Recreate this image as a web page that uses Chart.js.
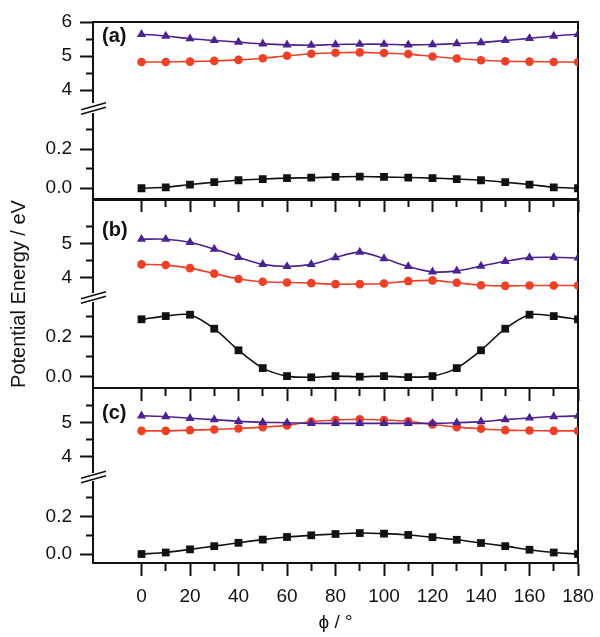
<!DOCTYPE html>
<html>
<head>
<meta charset="utf-8">
<script src="https://cdn.jsdelivr.net/npm/chart.js@4.4.1/dist/chart.umd.min.js"></script>
<style>
  html, body { margin: 0; padding: 0; background: #fff; }
  #wrap { position: relative; width: 600px; height: 637px; }
  #wrap canvas { position: absolute; left: 0; }
</style>
</head>
<body>
<div id="wrap">
  <canvas id="panelA" width="600" height="212" style="top:0px"></canvas>
  <canvas id="panelB" width="600" height="210" style="top:191px"></canvas>
  <canvas id="panelC" width="600" height="258" style="top:379px"></canvas>
</div>
<script>
// dihedral angle phi (deg)
const angles = [0, 10, 20, 30, 40, 50, 60, 70, 80, 90, 100, 110, 120, 130, 140, 150, 160, 170, 180];

// panel (a)
const squaresA   = [0.000, 0.005, 0.019, 0.031, 0.041, 0.047, 0.052, 0.054, 0.058, 0.060, 0.058, 0.055, 0.052, 0.047, 0.041, 0.031, 0.019, 0.005, 0.000];
const circlesA   = [4.83, 4.83, 4.84, 4.86, 4.89, 4.94, 5.01, 5.07, 5.10, 5.11, 5.09, 5.06, 4.99, 4.93, 4.88, 4.85, 4.84, 4.83, 4.83];
const trianglesA = [5.64, 5.59, 5.51, 5.46, 5.41, 5.36, 5.33, 5.32, 5.34, 5.35, 5.35, 5.33, 5.34, 5.37, 5.40, 5.46, 5.52, 5.59, 5.64];

// panel (b)
const squaresB   = [0.287, 0.303, 0.310, 0.240, 0.132, 0.043, 0.003, -0.003, 0.003, 0.000, 0.003, -0.002, 0.003, 0.043, 0.132, 0.240, 0.310, 0.303, 0.287];
const circlesB   = [4.38, 4.36, 4.27, 4.11, 3.95, 3.87, 3.85, 3.83, 3.80, 3.80, 3.82, 3.89, 3.91, 3.84, 3.77, 3.75, 3.76, 3.76, 3.76];
const trianglesB = [5.12, 5.12, 5.03, 4.83, 4.59, 4.38, 4.32, 4.38, 4.58, 4.74, 4.55, 4.32, 4.16, 4.19, 4.33, 4.47, 4.58, 4.59, 4.57];

// panel (c)
const squaresC   = [0.000, 0.008, 0.025, 0.042, 0.060, 0.077, 0.091, 0.100, 0.107, 0.112, 0.109, 0.102, 0.090, 0.076, 0.059, 0.042, 0.023, 0.008, 0.000];
const circlesC   = [4.76, 4.76, 4.78, 4.80, 4.83, 4.87, 4.92, 5.03, 5.08, 5.10, 5.08, 5.04, 4.95, 4.87, 4.82, 4.78, 4.77, 4.76, 4.76];
const trianglesC = [5.20, 5.18, 5.13, 5.09, 5.04, 5.01, 5.00, 4.98, 4.98, 4.98, 4.98, 4.98, 4.98, 5.00, 5.03, 5.09, 5.14, 5.18, 5.20];

// ticks
const xLabelled   = [0, 20, 40, 60, 80, 100, 120, 140, 160, 180];
const upperTicksA = [4, 4.5, 5, 5.5, 6];
const upperTicks  = [4, 4.5, 5, 5.5];
const upperLabels = [4, 5, 6];
const lowerTicks  = [0, 0.1, 0.2, 0.3];
const lowerLabels = [0, 0.2];

const INK = '#111';
const RED = '#ee4027';
const VIOLET = '#4b2290';

Chart.defaults.font.family = 'Arial, "Liberation Sans", sans-serif';
Chart.defaults.font.size = 19;
Chart.defaults.color = INK;

const has = (list, v) => list.some(t => Math.abs(t - v) < 1e-6);
const pts = vals => angles.map((a, i) => ({ x: a, y: vals[i] }));

// keep every axis to a fixed size, with no extra room for edge labels
function fixSize(s, w, h) {
  if (w !== null) s.width = w;
  if (h !== null) s.height = h;
  s.paddingTop = s.paddingBottom = s.paddingLeft = s.paddingRight = 0;
}

// "//" across the left axis where it is cut
const breakMarks = {
  id: 'breakMarks',
  afterDraw(chart) {
    const gap = chart.scales.gap;
    const ctx = chart.ctx;
    const x = chart.chartArea.left;
    const y = (gap.top + gap.bottom) / 2;
    ctx.save();
    ctx.strokeStyle = INK;
    ctx.lineWidth = 1.6;
    for (const d of [-2.2, 2.2]) {
      ctx.beginPath();
      ctx.moveTo(x - 12, y + d + 3.5);
      ctx.lineTo(x + 13, y + d - 3.5);
      ctx.stroke();
    }
    ctx.restore();
  }
};

const panelTag = {
  id: 'panelTag',
  afterDraw(chart, args, opts) {
    const { ctx, chartArea } = chart;
    ctx.save();
    ctx.font = 'bold 20px Arial, "Liberation Sans", sans-serif';
    ctx.fillStyle = INK;
    ctx.textBaseline = 'middle';
    ctx.fillText(opts.text, chartArea.left + 9, chartArea.top + opts.dy);
    ctx.restore();
  }
};

function yPart(min, max, ticks, labels, fmt, weight, stackWeight) {
  return {
    type: 'linear', position: 'left', stack: 'energy', weight, stackWeight,
    min, max,
    afterBuildTicks: s => { s.ticks = ticks.map(value => ({ value })); },
    afterFit: s => fixSize(s, 63, null),
    border: { display: true, width: 2, color: INK },
    grid: {
      display: true, drawOnChartArea: false, drawTicks: true,
      tickLength: 13, tickWidth: 2, tickColor: INK,
      tickBorderDash: c => (c.tick && !has(labels, c.tick.value)) ? [0, 6, 7, 20] : []
    },
    ticks: { padding: 8, autoSkip: false, callback: v => has(labels, v) ? fmt(v) : '' }
  };
}

function gapAxis(stackWeight) {
  return {
    type: 'linear', position: 'left', stack: 'energy', weight: 2, stackWeight,
    display: true,
    afterFit: s => fixSize(s, 63, null),
    border: { display: false },
    grid: { display: false },
    ticks: { display: false }
  };
}

function makePanel(id, p) {
  const bottom = p.bottom;
  return new Chart(document.getElementById(id), {
    type: 'line',
    data: {
      datasets: [
        { data: pts(p.triangles), yAxisID: 'up', borderColor: VIOLET, backgroundColor: VIOLET,
          pointStyle: 'triangle', pointRadius: 5.3 },
        { data: pts(p.circles), yAxisID: 'up', borderColor: RED, backgroundColor: RED,
          pointStyle: 'circle', pointRadius: 4.3 },
        { data: pts(p.squares), yAxisID: 'lo', borderColor: INK, backgroundColor: INK,
          pointStyle: 'rect', pointRadius: 5.5 }
      ]
    },
    options: {
      responsive: false,
      animation: false,
      events: [],
      layout: { autoPadding: false, padding: { top: 9 + p.extraTop, right: 22, bottom: bottom ? 2 : 0, left: 0 } },
      elements: {
        line: { borderWidth: 1.6, tension: 0.3 },
        point: { borderWidth: 0 }
      },
      plugins: {
        legend: { display: false },
        tooltip: { enabled: false },
        panelTag: { text: p.tag, dy: p.tagDy }
      },
      scales: {
        x: {
          type: 'linear', position: 'bottom', min: -20, max: 180,
          afterBuildTicks: s => { s.ticks = angles.map(value => ({ value })); },
          afterFit: s => fixSize(s, null, bottom ? 72 : 13),
          border: { width: 2, color: INK },
          grid: {
            display: true, drawOnChartArea: false, drawTicks: true,
            tickLength: 13, tickWidth: 2, tickColor: INK,
            tickBorderDash: c => (c.tick && !xLabelled.includes(c.tick.value)) ? [7, 30] : []
          },
          ticks: {
            display: bottom, autoSkip: false, maxRotation: 0, padding: 9,
            callback: v => xLabelled.includes(v) ? String(v) : ''
          },
          title: { display: bottom, text: 'ϕ / °', padding: { top: 0, bottom: 1 } }
        },
        xTop: {
          type: 'linear', position: 'top', min: -20, max: 180,
          afterFit: s => fixSize(s, null, 0),
          border: { display: true, width: 2, color: INK },
          grid: { display: false }, ticks: { display: false }
        },
        yRight: {
          type: 'linear', position: 'right',
          afterFit: s => fixSize(s, 0, null),
          border: { display: true, width: 2, color: INK },
          grid: { display: false }, ticks: { display: false }
        },
        yTitle: {
          type: 'linear', position: 'left', weight: 10,
          afterFit: s => fixSize(s, 30, null),
          border: { display: false }, grid: { display: false }, ticks: { display: false },
          title: { display: p.showTitle, text: 'Potential Energy / eV', font: { size: 20 }, padding: { top: 7, bottom: 0 } }
        },
        up: yPart(p.upMin, p.upMax, p.upTicks, upperLabels, v => String(v), 3, p.heights[0]),
        gap: gapAxis(p.heights[1]),
        lo: yPart(p.loMin, p.loMax, lowerTicks, lowerLabels, v => v.toFixed(1), 1, p.heights[2])
      }
    },
    plugins: [breakMarks, panelTag]
  });
}

makePanel('panelA', {
  tag: '(a)', tagDy: 14, extraTop: 13, showTitle: false, bottom: false,
  squares: squaresA, circles: circlesA, triangles: trianglesA,
  upMin: 3.64, upMax: 6.0, upTicks: upperTicksA,
  loMin: -0.055, loMax: 0.378,
  heights: [81, 12, 85]
});

makePanel('panelB', {
  tag: '(b)', tagDy: 30, extraTop: 0, showTitle: true, bottom: false,
  squares: squaresB, circles: circlesB, triangles: trianglesB,
  upMin: 3.57, upMax: 6.27, upTicks: upperTicks,
  loMin: -0.0565, loMax: 0.3685,
  heights: [92, 11, 85]
});

makePanel('panelC', {
  tag: '(c)', tagDy: 25, extraTop: 0, showTitle: false, bottom: true,
  squares: squaresC, circles: circlesC, triangles: trianglesC,
  upMin: 3.55, upMax: 6.02, upTicks: upperTicks,
  loMin: -0.048, loMax: 0.385,
  heights: [84, 10, 81]
});
</script>
</body>
</html>
